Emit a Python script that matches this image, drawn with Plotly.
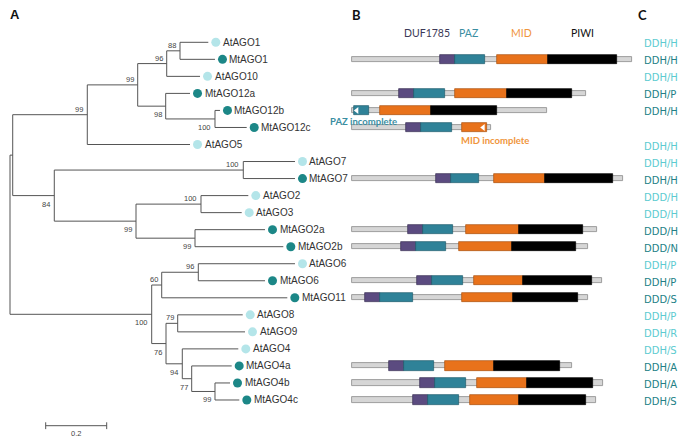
import plotly.graph_objects as go

# ---------------- Panel A: phylogenetic tree ----------------
node_names = ["root", "N1", "A", "C", "D", "F", "AtAGO1", "MtAGO1", "AtAGO10",
              "E", "MtAGO12a", "G", "MtAGO12b", "MtAGO12c", "AtAGO5",
              "B", "H", "AtAGO7", "MtAGO7", "I", "J", "AtAGO2", "AtAGO3",
              "K", "MtAGO2a", "MtAGO2b",
              "L", "M", "O", "AtAGO6", "MtAGO6", "MtAGO11",
              "N", "P", "AtAGO8", "AtAGO9", "Q", "AtAGO4", "R", "MtAGO4a",
              "S", "MtAGO4b", "MtAGO4c"]
node_parent = [None, "root", "N1", "A", "C", "D", "F", "F", "D",
               "C", "E", "E", "G", "G", "A",
               "N1", "B", "H", "H", "B", "I", "J", "J",
               "I", "K", "K",
               "root", "L", "M", "O", "O", "M",
               "L", "N", "P", "P", "N", "Q", "Q", "R",
               "R", "S", "S"]
branch_length = [0.0, 0.0089, 0.2445, 0.1653, 0.0951, 0.0436, 0.0928, 0.1147, 0.1092,
                 0.0918, 0.0797, 0.1616, 0.0164, 0.1040, 0.3368,
                 0.1363, 0.6197, 0.1695, 0.1695, 0.2679, 0.2131, 0.1551, 0.1335,
                 0.1935, 0.2295, 0.2895,
                 0.4646, 0.0328, 0.1200, 0.3170, 0.2187, 0.4118,
                 0.0469, 0.0383, 0.2132, 0.2207, 0.0534, 0.1836, 0.0308, 0.1312,
                 0.0764, 0.0492, 0.0797]
bootstrap = [None, None, 99, 99, 96, 88, None, None, None,
             98, None, 100, None, None, None,
             84, 100, None, None, 99, 100, None, None,
             99, None, None,
             100, 60, 96, None, None, None,
             76, 79, None, None, 94, None, 77, None,
             99, None, None]
scale_bar_value = 0.2

# ---------------- Panel B: domain architecture (aa positions) ----------------
proteins = ["MtAGO1", "MtAGO12a", "MtAGO12b", "MtAGO12c", "MtAGO7", "MtAGO2a",
            "MtAGO2b", "MtAGO6", "MtAGO11", "MtAGO4a", "MtAGO4b", "MtAGO4c"]
protein_length = [1037, 868, 724, 516, 1006, 907, 874, 926, 876, 815, 932, 905]
duf1785 = [(327, 383), (176, 231), None, (201, 256), (312, 367), (210, 263),
           (181, 237), (241, 296), (49, 105), (139, 194), (253, 309), (228, 284)]
paz = [(383, 494), (231, 346), (9, 64), (256, 370), (367, 473), (263, 376),
       (237, 349), (296, 411), (105, 226), (194, 306), (309, 423), (284, 399)]
mid = [(537, 728), (383, 574), (105, 294), (410, 500), (527, 716), (423, 621),
       (397, 593), (453, 636), (410, 596), (346, 528), (463, 648), (438, 621)]
piwi = [(728, 984), (574, 817), (294, 539), None, (716, 969), (621, 858),
        (593, 830), (636, 891), (596, 839), (528, 771), (648, 895), (621, 868)]
incomplete_protein = ["MtAGO12b", "MtAGO12c"]
incomplete_domain = ["PAZ", "MID"]
incomplete_side = ["start", "end"]
domain_names = ["DUF1785", "PAZ", "MID", "PIWI"]

# ---------------- Panel C: catalytic motifs ----------------
motif_protein = ["AtAGO1", "MtAGO1", "AtAGO10", "MtAGO12a", "MtAGO12b", "MtAGO12c",
                 "AtAGO5", "AtAGO7", "MtAGO7", "AtAGO2", "AtAGO3", "MtAGO2a",
                 "MtAGO2b", "AtAGO6", "MtAGO6", "MtAGO11", "AtAGO8", "AtAGO9",
                 "AtAGO4", "MtAGO4a", "MtAGO4b", "MtAGO4c"]
motif = ["DDH/H", "DDH/H", "DDH/H", "DDH/P", "DDH/H", "",
         "DDH/H", "DDH/H", "DDH/H", "DDD/H", "DDD/H", "DDD/H",
         "DDD/N", "DDH/P", "DDH/P", "DDD/S", "DDH/P", "DDH/R",
         "DDH/S", "DDH/A", "DDH/A", "DDH/S"]

# ---------------- styling ----------------
W, H = 685, 441
AT_DOT, MT_DOT = "#b4e5e9", "#1c8787"
AT_TXT, MT_TXT = "#5ccbd0", "#237f86"
LINE_C = "#555555"
DOM_COL = {"DUF1785": "#5b4b80", "PAZ": "#2f8298", "MID": "#e8721b", "PIWI": "#000000"}
DOM_EDGE = {"DUF1785": "#3a2f55", "PAZ": "#1f5d6d", "MID": "#a9520f", "PIWI": "#000000"}
HEAD_COL = {"DUF1785": "#3b3957", "PAZ": "#3a8ea2", "MID": "#f0953c", "PIWI": "#111111"}

# pixel layout for axes
TREE_X0, TREE_PPU = 10.0, 305.0      # px of root, px per distance unit
AA_X0, AA_PPA = 351.7, 0.27          # px of residue 0, px per residue
ROW_Y0, ROW_DY = 42.3, 17.033        # px of first row, px per row

# ---------------- tree layout computation ----------------
children = {n: [] for n in node_names}
for n, p in zip(node_names, node_parent):
    if p is not None:
        children[p].append(n)
depth = {}
for n, p, bl in zip(node_names, node_parent, branch_length):
    depth[n] = bl if p is None else depth[p] + bl

leaves = []
def dfs(n):
    if not children[n]:
        leaves.append(n)
    for c in children[n]:
        dfs(c)
dfs("root")
ypos = {}
def sety(n):
    if not children[n]:
        ypos[n] = leaves.index(n)
    else:
        for c in children[n]:
            sety(c)
        ypos[n] = (ypos[children[n][0]] + ypos[children[n][-1]]) / 2
    return ypos[n]
sety("root")
row_of = {n: ypos[n] for n in leaves}

lx, ly = [], []
for n, p in zip(node_names, node_parent):
    if p is not None:
        lx += [depth[p], depth[n], None]
        ly += [ypos[n], ypos[n], None]
    if children[n]:
        lx += [depth[n], depth[n], None]
        ly += [ypos[children[n][0]], ypos[children[n][-1]], None]

fig = go.Figure()
fig.add_trace(go.Scatter(x=lx, y=ly, mode="lines", line=dict(color=LINE_C, width=1),
                         hoverinfo="skip", xaxis="x", yaxis="y"))

DOT_GAP = 7.5 / TREE_PPU
fig.add_trace(go.Scatter(
    x=[depth[n] + DOT_GAP for n in leaves], y=[ypos[n] for n in leaves],
    mode="markers",
    marker=dict(size=9, color=[AT_DOT if n.startswith("At") else MT_DOT for n in leaves]),
    hoverinfo="skip", xaxis="x", yaxis="y"))

annotations = []
for n in leaves:
    annotations.append(dict(x=depth[n] + DOT_GAP, y=ypos[n], xref="x", yref="y",
                            text=n, showarrow=False, xanchor="left", yanchor="middle", xshift=5,
                            font=dict(family="Liberation Sans, Arial", size=10, color="#333333")))
for n, p, bs in zip(node_names, node_parent, bootstrap):
    if bs is None:
        continue
    upper = children[p][0] == n
    annotations.append(dict(x=depth[n], y=ypos[n], xref="x", yref="y", text=str(bs),
                            showarrow=False, xanchor="right", xshift=-2,
                            yanchor="bottom" if upper else "top",
                            yshift=-1 if upper else -2,
                            font=dict(family="Liberation Sans, Arial", size=7.5, color="#444444")))

# scale bar
sb_x0 = 35.7 / TREE_PPU
sb_row = (425.7 - ROW_Y0) / ROW_DY
tick = 0.2
fig.add_trace(go.Scatter(
    x=[sb_x0, sb_x0 + scale_bar_value, None, sb_x0, sb_x0, None,
       sb_x0 + scale_bar_value, sb_x0 + scale_bar_value],
    y=[sb_row, sb_row, None, sb_row - tick, sb_row + tick, None, sb_row - tick, sb_row + tick],
    mode="lines", line=dict(color=LINE_C, width=1), hoverinfo="skip", xaxis="x", yaxis="y"))
annotations.append(dict(x=sb_x0 + scale_bar_value / 2, y=sb_row, xref="x", yref="y",
                        text=str(scale_bar_value), showarrow=False, xanchor="center",
                        yanchor="top", yshift=-1,
                        font=dict(family="Liberation Sans, Arial", size=7.5, color="#444444")))

# ---------------- domain bars ----------------
bb_y, bb_len = [], []
for prot, L in zip(proteins, protein_length):
    bb_y.append(row_of[prot]); bb_len.append(L)
fig.add_trace(go.Bar(orientation="h", y=bb_y, x=bb_len, base=[0] * len(bb_y), width=0.3,
                     marker=dict(color="#d6d6d6", line=dict(color="#8a8a8a", width=0.8)),
                     xaxis="x2", yaxis="y", hoverinfo="skip"))
for dname, dlist in zip(domain_names, [duf1785, paz, mid, piwi]):
    ys, xs, bs = [], [], []
    for prot, d in zip(proteins, dlist):
        if d is None:
            continue
        ys.append(row_of[prot]); bs.append(d[0]); xs.append(d[1] - d[0])
    fig.add_trace(go.Bar(orientation="h", y=ys, x=xs, base=bs, width=0.54,
                         marker=dict(color=DOM_COL[dname], line=dict(color=DOM_EDGE[dname], width=0.7)),
                         xaxis="x2", yaxis="y", hoverinfo="skip", name=dname))

# incomplete-domain arrowheads
dom_lookup = {"DUF1785": duf1785, "PAZ": paz, "MID": mid, "PIWI": piwi}
tri_x, tri_y = [], []
for prot, dn, side in zip(incomplete_protein, incomplete_domain, incomplete_side):
    d = dom_lookup[dn][proteins.index(prot)]
    tri_x.append(d[0] + 10 if side == "start" else d[1] - 13)
    tri_y.append(row_of[prot])
fig.add_trace(go.Scatter(x=tri_x, y=tri_y, mode="markers",
                         marker=dict(symbol="triangle-left", size=6, color="white",
                                     line=dict(width=0)),
                         xaxis="x2", yaxis="y", hoverinfo="skip"))

def px2paper_x(px):
    return px / W
def px2paper_y(py):
    return 1 - py / H

def paper_text(px, py, text, font, xanchor="center"):
    annotations.append(dict(x=px2paper_x(px), y=px2paper_y(py), xref="paper", yref="paper",
                            text=text, showarrow=False, xanchor=xanchor, yanchor="middle",
                            font=font))

paper_text(363.5, 121.5, "<b>PAZ incomplete</b>", dict(family="Lato", size=9.5, color="#3a8ea2"))
paper_text(494.5, 140.5, "<b>MID incomplete</b>", dict(family="Lato", size=9.5, color="#f0953c"))

head_x = [427.3, 468.3, 521.7, 582.7]
for dname, hx in zip(domain_names, head_x):
    paper_text(hx, 33.3, dname, dict(family="Lato", size=10.5, color=HEAD_COL[dname]))

# ---------------- Panel C text ----------------
for prot, m in zip(motif_protein, motif):
    if not m:
        continue
    annotations.append(dict(x=px2paper_x(641.5), y=row_of[prot], xref="paper", yref="y",
                            text=m, showarrow=False, xanchor="left", yanchor="middle", yshift=-1.5,
                            font=dict(family="DejaVu Sans", size=10,
                                      color=AT_TXT if prot.startswith("At") else MT_TXT)))

# panel letters
paper_text(15, 14.5, "<b>A</b>", dict(family="Liberation Sans, Arial", size=13, color="#111111"))
paper_text(356.5, 15, "<b>B</b>", dict(family="Lato", size=13, color="#111111"))
paper_text(642.5, 15, "<b>C</b>", dict(family="Lato", size=13, color="#111111"))

fig.update_layout(
    width=W, height=H, margin=dict(l=0, r=0, t=0, b=0),
    paper_bgcolor="white", plot_bgcolor="white", showlegend=False,
    barmode="overlay", bargap=0,
    xaxis=dict(range=[-TREE_X0 / TREE_PPU, (W - TREE_X0) / TREE_PPU], visible=False,
               domain=[0, 1], fixedrange=True),
    xaxis2=dict(range=[-AA_X0 / AA_PPA, (W - AA_X0) / AA_PPA], visible=False,
                overlaying="x", fixedrange=True),
    yaxis=dict(range=[(H - ROW_Y0) / ROW_DY, -ROW_Y0 / ROW_DY], visible=False,
               domain=[0, 1], fixedrange=True),
    annotations=annotations,
)

fig.write_html("out.html", config={"displayModeBar": False},
               post_script="document.body.style.margin='0';document.body.style.overflow='hidden';")
